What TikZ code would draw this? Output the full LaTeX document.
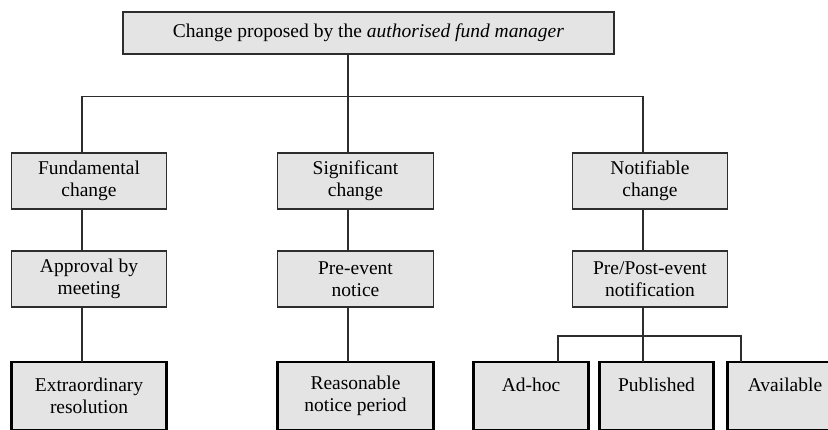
\documentclass[tikz,border=0pt]{standalone}
\usepackage{fontspec}
\setmainfont{Liberation Serif}
\usetikzlibrary{positioning}
\definecolor{BoxGrey}{RGB}{228,228,228}
\definecolor{EdgeGrey}{RGB}{45,45,45}

\begin{document}
\begin{tikzpicture}[x=1pt,y=-1pt,node distance=42pt]
\tikzstyle{box}=[draw=EdgeGrey,line width=1.3pt,fill=BoxGrey,align=center,minimum width=155pt,minimum height=56pt,inner sep=2pt,outer sep=0pt,font=\fontsize{19.5}{22}\selectfont]
\tikzstyle{outcome}=[box,draw=black,line width=2.6pt,minimum height=68pt]
\tikzstyle{link}=[line width=1.2pt,EdgeGrey]
\useasboundingbox (0,0) rectangle (828,430);
\clip (0,0) rectangle (828,430);
\node[box,minimum width=491pt,minimum height=42pt] (proposal) at (368.5,33) {Change proposed by the \textit{authorised fund manager}};
\node[box] (fundamental) at (89,181) {Fundamental\\change};
\node[box,minimum width=156pt,right=111pt of fundamental] (significant) {Significant\\change};
\node[box,right=139pt of significant] (notifiable) {Notifiable\\change};
\node[box,below=of fundamental] (approval) {Approval by\\meeting};
\node[box,minimum width=156pt,below=of significant] (preevent) {Pre-event\\notice};
\node[box,below=of notifiable] (prepost) {Pre/Post-event\\notification};
\node[outcome,below=55pt of approval] (extraordinary) {Extraordinary\\resolution};
\node[outcome,minimum width=156pt,below=55pt of preevent] (reasonable) {Reasonable\\notice period};
\node[outcome,minimum width=114pt,below=55pt of prepost,xshift=6.5pt] (published) {Published\\~};
\node[outcome,minimum width=115pt,left=11pt of published] (adhoc) {Ad-hoc\\~};
\node[outcome,minimum width=115pt,right=14pt of published] (available) {Available\\~};
% where the connectors run
\coordinate (bus) at (0,96.5);
\coordinate (bracket) at (0,336);
\coordinate (colA) at (82,0);
\coordinate (colB) at (348,0);
\coordinate (colC) at (643,0);
\coordinate (colD) at (558,0);
\coordinate (colE) at (741,0);
\draw[link] (proposal.south -| colB) -- (colB |- bus);
\draw[link] (colA |- fundamental.north) -- (colA |- bus) -- (colC |- bus) -- (colC |- notifiable.north);
\draw[link] (colB |- bus) -- (colB |- significant.north);
\draw[link] (colA |- fundamental.south) -- (colA |- approval.north);
\draw[link] (colA |- approval.south) -- (colA |- extraordinary.north);
\draw[link] (colB |- significant.south) -- (colB |- preevent.north);
\draw[link] (colB |- preevent.south) -- (colB |- reasonable.north);
\draw[link] (colC |- notifiable.south) -- (colC |- prepost.north);
\draw[link] (colC |- prepost.south) -- (colC |- published.north);
\draw[link] (colD |- adhoc.north) -- (colD |- bracket) -- (colE |- bracket) -- (colE |- available.north);
\end{tikzpicture}
\end{document}
